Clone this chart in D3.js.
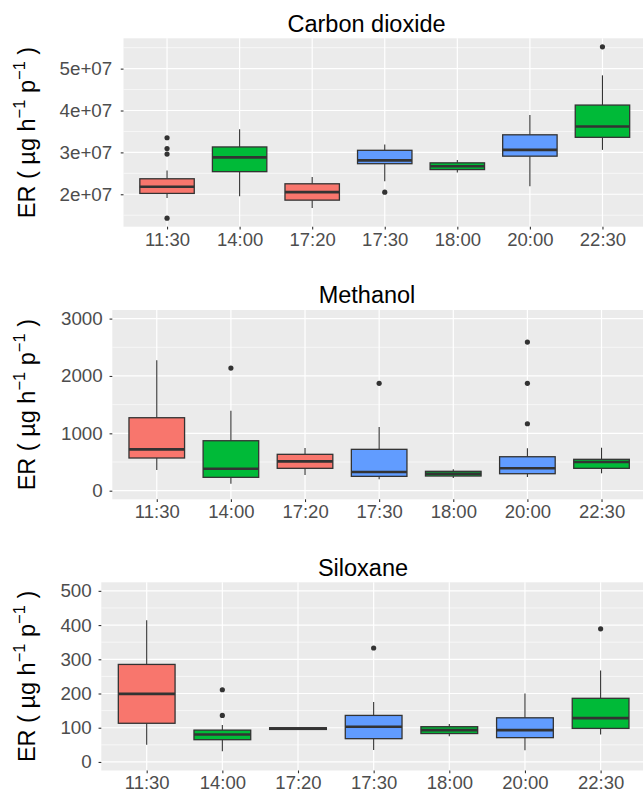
<!DOCTYPE html>
<html>
<head>
<meta charset="utf-8">
<script src="https://cdn.jsdelivr.net/npm/d3@7/dist/d3.min.js"></script>
<style>
body{margin:0;background:#fff;overflow:hidden}
text{font-family:"Liberation Sans",Arial,Helvetica,sans-serif}
</style>
</head>
<body>
<script>
var times = ["11:30","14:00","17:20","17:30","18:00","20:00","22:30"];
var fillGroup = [0,1,0,2,1,2,1];
var palette = ["#F8766D","#00BA38","#619CFF"];

// each row: lower whisker, q1, median, q3, upper whisker
var co2Box = [
  [1.91e7, 2.02e7, 2.18e7, 2.37e7, 2.57e7],
  [1.95e7, 2.54e7, 2.88e7, 3.13e7, 3.55e7],
  [1.67e7, 1.86e7, 2.05e7, 2.25e7, 2.41e7],
  [2.31e7, 2.73e7, 2.81e7, 3.05e7, 3.19e7],
  [2.52e7, 2.59e7, 2.67e7, 2.75e7, 2.82e7],
  [2.19e7, 2.91e7, 3.06e7, 3.42e7, 3.89e7],
  [3.06e7, 3.36e7, 3.62e7, 4.13e7, 4.84e7]
];
var co2Out = [[3.35e7, 3.09e7, 2.96e7, 1.43e7], [], [], [2.05e7], [], [], [5.52e7]];

var methanolBox = [
  [361, 570, 721, 1272, 2272],
  [122, 233, 383, 871, 1394],
  [273, 390, 512, 634, 744],
  [198, 250, 326, 721, 1110],
  [221, 256, 296, 338, 373],
  [238, 296, 390, 592, 738],
  [303, 390, 500, 547, 749]
];
var methanolOut = [[], [2138], [], [1871], [], [2591, 1871, 1167], []];

var siloxaneBox = [
  [50, 113, 199, 285, 414],
  [31, 65, 80, 93, 108],
  [94, 95, 97, 100, 101],
  [35, 68, 103, 136, 175],
  [75, 83, 93, 103, 111],
  [34, 71, 93, 129, 200],
  [80, 98, 128, 186, 267]
];
var siloxaneOut = [[], [211, 136], [], [333], [], [], [389]];

var co2Ticks = [2e7, 3e7, 4e7, 5e7];
var co2TickLabels = ["2e+07", "3e+07", "4e+07", "5e+07"];
var methanolTicks = [0, 1000, 2000, 3000];
var methanolTickLabels = ["0", "1000", "2000", "3000"];
var siloxaneTicks = [0, 100, 200, 300, 400, 500];
var siloxaneTickLabels = ["0", "100", "200", "300", "400", "500"];
var methanolLimits = [0, 3000];
var siloxaneLimits = [0, 500];

var W = 643, H = 799;
var svg = d3.select("body").append("svg").attr("width", W).attr("height", H);

var panels = [
  {title: "Carbon dioxide", box: co2Box, out: co2Out, ticks: co2Ticks, labels: co2TickLabels, limits: null,
   left: 123.5, top: 38.3, bottom: 226.7, titleX: 366.5, titleY: 32.3, pad: 8.5},
  {title: "Methanol", box: methanolBox, out: methanolOut, ticks: methanolTicks, labels: methanolTickLabels, limits: methanolLimits,
   left: 112.3, top: 310, bottom: 499.3, titleX: 367, titleY: 303.3, pad: 6.8},
  {title: "Siloxane", box: siloxaneBox, out: siloxaneOut, ticks: siloxaneTicks, labels: siloxaneTickLabels, limits: siloxaneLimits,
   left: 101.3, top: 582.3, bottom: 770.5, titleX: 363, titleY: 575.7, pad: 6.8}
];
var right = 646;

panels.forEach(function(p){
  var lim = p.limits;
  if (!lim) {
    var all = [];
    p.box.forEach(function(b){ all.push(b[0], b[4]); });
    p.out.forEach(function(o){ all = all.concat(o); });
    lim = d3.extent(all);
  }
  var span = lim[1] - lim[0];
  var y = d3.scaleLinear().domain([lim[0] - 0.05*span, lim[1] + 0.05*span]).range([p.bottom, p.top]);
  var x = d3.scalePoint().domain(times).range([p.left, right]).padding(0.6);
  var bw = x.step() * 0.75;

  var g = svg.append("g");
  g.append("rect").attr("x", p.left).attr("y", p.top)
    .attr("width", right - p.left).attr("height", p.bottom - p.top).attr("fill", "#EBEBEB");

  // minor grid: halfway between major ticks
  var step = p.ticks[1] - p.ticks[0];
  var minor = [];
  for (var v = p.ticks[0] - step/2; v <= y.domain()[1]; v += step) {
    if (v >= y.domain()[0]) minor.push(v);
  }
  g.selectAll(".minor").data(minor).enter().append("line")
    .attr("x1", p.left).attr("x2", right)
    .attr("y1", function(d){ return y(d); }).attr("y2", function(d){ return y(d); })
    .attr("stroke", "#fff").attr("stroke-width", 0.6);
  g.selectAll(".major").data(p.ticks).enter().append("line")
    .attr("x1", p.left).attr("x2", right)
    .attr("y1", function(d){ return y(d); }).attr("y2", function(d){ return y(d); })
    .attr("stroke", "#fff").attr("stroke-width", 1.2);
  g.selectAll(".vgrid").data(times).enter().append("line")
    .attr("x1", function(d){ return x(d); }).attr("x2", function(d){ return x(d); })
    .attr("y1", p.top).attr("y2", p.bottom)
    .attr("stroke", "#fff").attr("stroke-width", 1.2);

  // boxes
  var bx = g.selectAll(".bx").data(p.box).enter().append("g");
  bx.append("line")
    .attr("x1", function(d, i){ return x(times[i]); }).attr("x2", function(d, i){ return x(times[i]); })
    .attr("y1", function(d){ return y(d[4]); }).attr("y2", function(d){ return y(d[3]); })
    .attr("stroke", "#333").attr("stroke-width", 1.1);
  bx.append("line")
    .attr("x1", function(d, i){ return x(times[i]); }).attr("x2", function(d, i){ return x(times[i]); })
    .attr("y1", function(d){ return y(d[1]); }).attr("y2", function(d){ return y(d[0]); })
    .attr("stroke", "#333").attr("stroke-width", 1.1);
  bx.append("rect")
    .attr("x", function(d, i){ return x(times[i]) - bw/2; })
    .attr("width", bw)
    .attr("y", function(d){ return y(d[3]); })
    .attr("height", function(d){ return Math.max(0.5, y(d[1]) - y(d[3])); })
    .attr("fill", function(d, i){ return palette[fillGroup[i]]; })
    .attr("stroke", "#333").attr("stroke-width", 1.3);
  bx.append("line")
    .attr("x1", function(d, i){ return x(times[i]) - bw/2; })
    .attr("x2", function(d, i){ return x(times[i]) + bw/2; })
    .attr("y1", function(d){ return y(d[2]); }).attr("y2", function(d){ return y(d[2]); })
    .attr("stroke", "#333").attr("stroke-width", 2.6);

  var pts = [];
  p.out.forEach(function(o, i){ o.forEach(function(v){ pts.push([times[i], v]); }); });
  g.selectAll(".pt").data(pts).enter().append("circle")
    .attr("cx", function(d){ return x(d[0]); }).attr("cy", function(d){ return y(d[1]); })
    .attr("r", 2.6).attr("fill", "#333");

  // axes
  var ya = d3.axisLeft(y).tickValues(p.ticks).tickSize(2.75).tickPadding(p.pad)
    .tickFormat(function(d, i){ return p.labels[i]; });
  var yg = g.append("g").attr("transform", "translate(" + p.left + ",0)").call(ya);
  yg.select(".domain").remove();
  yg.selectAll(".tick line").attr("stroke", "#333").attr("stroke-width", 1.1);
  yg.selectAll(".tick text").attr("fill", "#4D4D4D").style("font-size", "18.8px")
    .style("font-family", "Liberation Sans, Arial, sans-serif");

  var xa = d3.axisBottom(x).tickSize(2.75).tickPadding(3);
  var xg = g.append("g").attr("transform", "translate(0," + p.bottom + ")").call(xa);
  xg.select(".domain").remove();
  xg.selectAll(".tick line").attr("stroke", "#333").attr("stroke-width", 1.1);
  xg.selectAll(".tick text").attr("fill", "#4D4D4D").style("font-size", "18.5px")
    .style("font-family", "Liberation Sans, Arial, sans-serif");

  g.append("text").attr("x", p.titleX).attr("y", p.titleY)
    .attr("text-anchor", "middle").style("font-size", "23.5px").attr("fill", "#000")
    .text(p.title);

  var yt = g.append("text")
    .attr("transform", "translate(35," + ((p.top + p.bottom)/2) + ") rotate(-90)")
    .attr("text-anchor", "middle").style("font-size", "23.5px").attr("fill", "#000");
  yt.append("tspan").text("ER ( \u00B5g h");
  yt.append("tspan").attr("dy", -10).style("font-size", "16.5px").text("\u22121");
  yt.append("tspan").attr("dy", 10).text(" p");
  yt.append("tspan").attr("dy", -10).style("font-size", "16.5px").text("\u22121");
  yt.append("tspan").attr("dy", 10).text(" )");
});
</script>
</body>
</html>
